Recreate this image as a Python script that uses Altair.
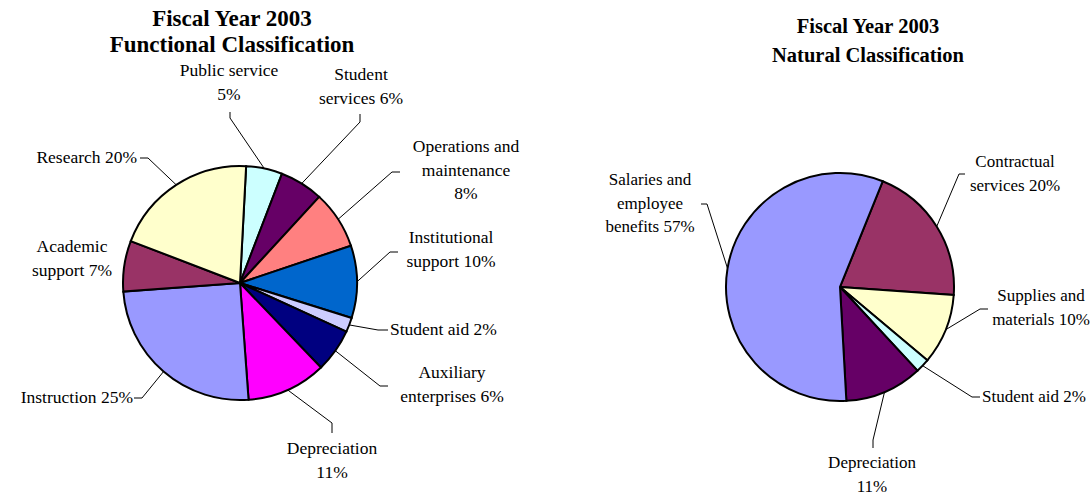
import math
import altair as alt
import pandas as pd

# ---------------- data ----------------
func_names = ["Public service", "Student services", "Operations and maintenance",
              "Institutional support", "Student aid", "Auxiliary enterprises",
              "Depreciation", "Instruction", "Academic support", "Research"]
func_values = [5, 6, 8, 10, 2, 6, 11, 25, 7, 20]
func_label_lines = [["Public service", "5%"], ["Student", "services 6%"],
                    ["Operations and", "maintenance", "8%"], ["Institutional", "support 10%"],
                    ["Student aid 2%"], ["Auxiliary", "enterprises 6%"], ["Depreciation", "11%"],
                    ["Instruction 25%"], ["Academic", "support 7%"], ["Research 20%"]]

nat_names = ["Contractual services", "Supplies and materials", "Student aid",
             "Depreciation", "Salaries and employee benefits"]
nat_values = [20, 10, 2, 11, 57]
nat_label_lines = [["Contractual", "services 20%"], ["Supplies and", "materials 10%"],
                   ["Student aid 2%"], ["Depreciation", "11%"],
                   ["Salaries and", "employee", "benefits 57%"]]

titles_left = ["Fiscal Year 2003", "Functional Classification"]
titles_right = ["Fiscal Year 2003", "Natural Classification"]

# ---------------- styles / layout ----------------
func_colors = ["#CCFFFF", "#660066", "#FF8080", "#0066CC", "#CCCCFF", "#000080",
               "#FF00FF", "#9999FF", "#993366", "#FFFFCC"]
nat_colors = ["#993366", "#FFFFCC", "#CCFFFF", "#660066", "#9999FF"]

W, H = 1092, 495
FONT = "Liberation Serif"
LEFT_LABEL_SIZE = 17.5
RIGHT_LABEL_SIZE = 17
LINE_H = 23.5

func_pie = dict(cx=240, cy=283, r=117, start_deg=3)
nat_pie = dict(cx=840, cy=287, r=114, start_deg=22)

func_label_pos = [(229, 71, "center"), (361, 75, "center"), (466, 147, "center"),
                  (451, 238, "center"), (390, 330, "left"), (452, 373, "center"),
                  (332, 449, "center"), (133, 398, "right"), (72, 247, "center"),
                  (137, 158, "right")]
func_leader = [((230, 112), (230, 118)), ((360, 114), (360, 122)), ((400, 172), (392, 172)),
               ((398, 252), (390, 252)), ((388, 330), (378, 330)), ((388, 386), (380, 386)),
               ((332, 433), (332, 423)), ((134, 398), (142, 398)), None,
               ((140, 158), (148, 158))]

nat_label_pos = [(1015, 162, "center"), (1041, 296, "center"), (982, 397, "left"),
                 (872, 463, "center"), (650, 180, "center")]
nat_leader = [((965, 174), (959, 174)), ((988, 309), (980, 309)), ((980, 397), (972, 397)),
              ((873, 448), (873, 440)), ((701, 204), (707, 204))]

title_specs = [(titles_left, 232, 19, 26, 23), (titles_right, 868, 27, 29, 20.5)]


def pie_layer(names, values, colors, pie):
    df = pd.DataFrame({"name": names, "value": values, "color": colors,
                       "idx": list(range(len(names)))})
    off = math.radians(pie["start_deg"])
    return alt.Chart(df).mark_arc(radius=pie["r"], stroke="black", strokeWidth=2).encode(
        theta=alt.Theta("value:Q", stack=True,
                        scale=alt.Scale(range=[off, off + 2 * math.pi])),
        color=alt.Color("color:N", scale=None),
        order=alt.Order("idx:Q", sort="ascending"),
        x=alt.value(pie["cx"]),
        y=alt.value(pie["cy"]),
    )


def leader_rows(values, leaders, pie):
    rows = []
    total = sum(values)
    cum = 0
    off = math.radians(pie["start_deg"])
    for v, ld in zip(values, leaders):
        mid = off + 2 * math.pi * (cum + v / 2) / total
        cum += v
        if ld is None:
            continue
        ex = pie["cx"] + pie["r"] * math.sin(mid)
        ey = pie["cy"] - pie["r"] * math.cos(mid)
        (ax, ay), (bx, by) = ld
        rows.append(dict(x=ax, y=ay, x2=bx, y2=by))
        rows.append(dict(x=bx, y=by, x2=ex, y2=ey))
    return rows


def label_rows(lines_list, positions, size):
    rows = []
    for lines, (x, y, al) in zip(lines_list, positions):
        for i, t in enumerate(lines):
            rows.append(dict(x=x, y=y + i * LINE_H, text=t, align=al, size=size))
    return rows


lead_df = pd.DataFrame(leader_rows(func_values, func_leader, func_pie) +
                       leader_rows(nat_values, nat_leader, nat_pie))
lab_df = pd.DataFrame(label_rows(func_label_lines, func_label_pos, LEFT_LABEL_SIZE) +
                      label_rows(nat_label_lines, nat_label_pos, RIGHT_LABEL_SIZE))

title_rows = []
for lines, x, y0, dy, size in title_specs:
    for i, t in enumerate(lines):
        title_rows.append(dict(x=x, y=y0 + i * dy, text=t, size=size))
title_df = pd.DataFrame(title_rows)

X = lambda f: alt.X(f, scale=None, axis=None)
Y = lambda f: alt.Y(f, scale=None, axis=None)

leaders = alt.Chart(lead_df).mark_rule(color="black", strokeWidth=1).encode(
    x=X("x:Q"), y=Y("y:Q"), x2="x2:Q", y2="y2:Q")

label_layers = []
for al in ["center", "left", "right"]:
    sub = lab_df[lab_df["align"] == al]
    label_layers.append(
        alt.Chart(sub).mark_text(font=FONT, align=al,
                                 baseline="middle", color="black").encode(
            x=X("x:Q"), y=Y("y:Q"), text="text:N",
            size=alt.Size("size:Q", scale=None)))

titles = alt.Chart(title_df).mark_text(font=FONT, fontWeight="bold", align="center",
                                       baseline="middle", color="black").encode(
    x=X("x:Q"), y=Y("y:Q"), text="text:N", size=alt.Size("size:Q", scale=None))

chart = alt.layer(
    leaders,
    pie_layer(func_names, func_values, func_colors, func_pie),
    pie_layer(nat_names, nat_values, nat_colors, nat_pie),
    *label_layers,
    titles,
).resolve_scale(theta="independent").properties(
    width=W, height=H, autosize=alt.AutoSizeParams(type="none"), padding=0,
    background="white"
).configure_view(stroke=None)

chart.save("out.html", embed_options={"renderer": "svg", "actions": False})
